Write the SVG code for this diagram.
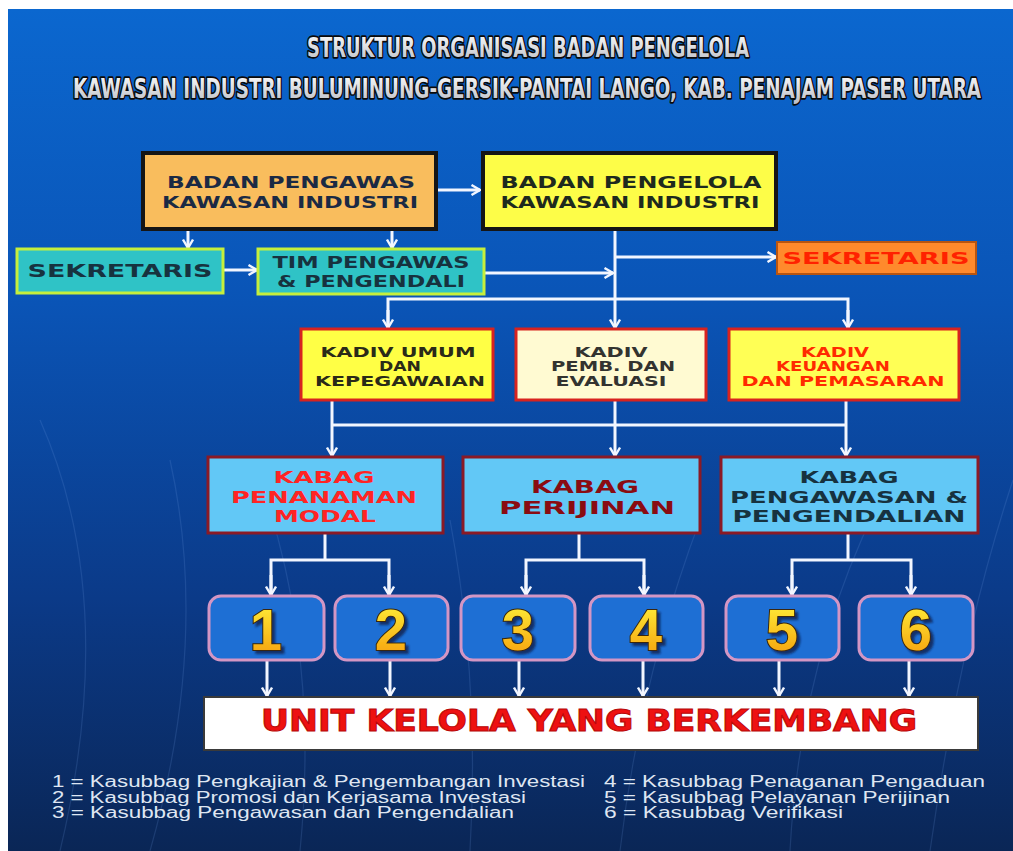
<svg xmlns="http://www.w3.org/2000/svg" width="1013" height="851" viewBox="0 0 1013 851">
<style>
  .conn { stroke: #f2f6ff; stroke-width: 3; fill: none; }
  .arr { marker-end: url(#arrow); }
  .bt { font-family: "DejaVu Sans", "Liberation Sans", sans-serif; font-weight: bold; text-anchor: middle; }
  .title { font-family: "DejaVu Sans Condensed", "DejaVu Sans", sans-serif; font-weight: bold; font-size: 21px; text-anchor: middle; fill: url(#titleFill); stroke: #0a0a0a; stroke-width: 2.6; paint-order: stroke; stroke-linejoin: round; }
  .num { font-family: "Liberation Sans", "DejaVu Sans", sans-serif; font-weight: bold; font-size: 58px; text-anchor: middle; fill: url(#numFill); stroke: #3a2808; stroke-width: 2; paint-order: stroke; filter: url(#numShadow); }
  .nbox { fill: #1e6fd4; stroke: #d396c4; stroke-width: 3; }
  .legend { font-family: "Liberation Sans", "DejaVu Sans", sans-serif; font-size: 16px; fill: #dfe6f2; }
  .kadiv { stroke: #d8231f; stroke-width: 3; }
  .kabag { fill: #62c8f6; stroke: #8a1a26; stroke-width: 3; }
  .teal { fill: #2fc3c6; stroke: #c6ef3c; stroke-width: 3; }
</style>
<defs>
  <linearGradient id="bg" x1="0" y1="0" x2="0" y2="1">
    <stop offset="0" stop-color="#0b67cf"/>
    <stop offset="0.35" stop-color="#0a54b6"/>
    <stop offset="0.7" stop-color="#0b3a88"/>
    <stop offset="1" stop-color="#0a2656"/>
  </linearGradient>
  <linearGradient id="titleFill" x1="0" y1="0" x2="0" y2="1">
    <stop offset="0" stop-color="#ffffff"/>
    <stop offset="1" stop-color="#b8bcc4"/>
  </linearGradient>
  <linearGradient id="numFill" x1="0" y1="0" x2="0" y2="1">
    <stop offset="0" stop-color="#fff53c"/>
    <stop offset="1" stop-color="#f59a0a"/>
  </linearGradient>
  <filter id="numShadow" x="-30%" y="-30%" width="160%" height="160%">
    <feDropShadow dx="3" dy="3" stdDeviation="0.8" flood-color="#0a2050" flood-opacity="0.8"/>
  </filter>
  <marker id="arrow" viewBox="0 0 12 12" refX="10.5" refY="6" markerWidth="12" markerHeight="12" markerUnits="userSpaceOnUse" orient="auto">
    <path d="M2,1 L10.5,6 L2,11" fill="none" stroke="#f2f6ff" stroke-width="2.4" stroke-linejoin="miter"/>
  </marker>
</defs>

<rect x="0" y="0" width="1013" height="851" fill="#ffffff"/>
<rect x="8" y="9" width="1005" height="842" fill="url(#bg)"/>
<g stroke="#6f9be0" stroke-width="1.2" fill="none" opacity="0.18">
  <path d="M60,851 Q120,600 40,420"/>
  <path d="M150,851 Q210,640 170,460"/>
  <path d="M300,851 Q320,650 260,480"/>
  <path d="M470,851 Q480,680 450,520"/>
  <path d="M620,851 Q640,680 700,520"/>
  <path d="M790,851 Q800,660 880,500"/>
  <path d="M930,851 Q960,640 1013,480"/>
</g>

<g id="title">
  <text class="title" transform="translate(528,57) scale(1,1.3)" x="0" y="0" textLength="442" lengthAdjust="spacingAndGlyphs">STRUKTUR ORGANISASI BADAN PENGELOLA</text>
  <text class="title" transform="translate(527,98) scale(1,1.3)" x="0" y="0" textLength="908" lengthAdjust="spacingAndGlyphs">KAWASAN INDUSTRI BULUMINUNG-GERSIK-PANTAI LANGO, KAB. PENAJAM PASER UTARA</text>
</g>

<g id="connectors">
  <line class="conn arr" x1="436" y1="190" x2="480" y2="190"/>
  <line class="conn arr" x1="188" y1="229" x2="188" y2="248"/>
  <line class="conn arr" x1="392" y1="229" x2="392" y2="248"/>
  <line class="conn arr" x1="223" y1="270" x2="257" y2="270"/>
  <line class="conn arr" x1="484" y1="273" x2="613" y2="273"/>
  <line class="conn arr" x1="615" y1="229" x2="615" y2="328"/>
  <line class="conn arr" x1="615" y1="257" x2="776" y2="257"/>
  <polyline class="conn" points="388,328 388,299 848,299 848,328"/>
  <line class="conn arr" x1="388" y1="310" x2="388" y2="328"/>
  <line class="conn arr" x1="848" y1="310" x2="848" y2="328"/>
  <line class="conn" x1="332" y1="400" x2="332" y2="425"/>
  <line class="conn" x1="615" y1="400" x2="615" y2="425"/>
  <line class="conn" x1="846" y1="400" x2="846" y2="425"/>
  <line class="conn" x1="332" y1="425" x2="846" y2="425"/>
  <line class="conn arr" x1="332" y1="425" x2="332" y2="456"/>
  <line class="conn arr" x1="615" y1="425" x2="615" y2="456"/>
  <line class="conn arr" x1="846" y1="425" x2="846" y2="456"/>
  <line class="conn" x1="325" y1="533" x2="325" y2="560"/>
  <polyline class="conn" points="271,594 271,560 389,560 389,594"/>
  <line class="conn arr" x1="271" y1="575" x2="271" y2="595"/>
  <line class="conn arr" x1="389" y1="575" x2="389" y2="595"/>
  <line class="conn" x1="579" y1="533" x2="579" y2="560"/>
  <polyline class="conn" points="526,594 526,560 644,560 644,594"/>
  <line class="conn arr" x1="526" y1="575" x2="526" y2="595"/>
  <line class="conn arr" x1="644" y1="575" x2="644" y2="595"/>
  <line class="conn" x1="848" y1="533" x2="848" y2="560"/>
  <polyline class="conn" points="792,594 792,560 911,560 911,594"/>
  <line class="conn arr" x1="792" y1="575" x2="792" y2="595"/>
  <line class="conn arr" x1="911" y1="575" x2="911" y2="595"/>
  <line class="conn arr" x1="267" y1="660" x2="267" y2="696"/>
  <line class="conn arr" x1="390" y1="660" x2="390" y2="696"/>
  <line class="conn arr" x1="519" y1="660" x2="519" y2="696"/>
  <line class="conn arr" x1="643" y1="660" x2="643" y2="696"/>
  <line class="conn arr" x1="779" y1="660" x2="779" y2="696"/>
  <line class="conn arr" x1="909" y1="660" x2="909" y2="696"/>
</g>

<g id="badan-pengawas">
  <rect x="143" y="153" width="293" height="76" fill="#f9bd5d" stroke="#151515" stroke-width="4"/>
  <text class="bt" x="291" y="188" font-size="16" fill="#1b2a44" textLength="248" lengthAdjust="spacingAndGlyphs">BADAN PENGAWAS</text>
  <text class="bt" x="290" y="208" font-size="16" fill="#1b2a44" textLength="256" lengthAdjust="spacingAndGlyphs">KAWASAN INDUSTRI</text>
</g>

<g id="badan-pengelola">
  <rect x="483" y="153" width="293" height="76" fill="#fdfd48" stroke="#151515" stroke-width="4"/>
  <text class="bt" x="631" y="188" font-size="16" fill="#1e2a1e" textLength="261" lengthAdjust="spacingAndGlyphs">BADAN PENGELOLA</text>
  <text class="bt" x="630" y="208" font-size="16" fill="#1e2a1e" textLength="259" lengthAdjust="spacingAndGlyphs">KAWASAN INDUSTRI</text>
</g>

<g id="sekretaris-pengawas">
  <rect class="teal" x="17" y="249" width="206" height="44"/>
  <text class="bt" x="120" y="277" font-size="17" fill="#17323f" textLength="185" lengthAdjust="spacingAndGlyphs">SEKRETARIS</text>
</g>

<g id="tim-pengawas">
  <rect class="teal" x="258" y="249" width="226" height="45"/>
  <text class="bt" x="371" y="268" font-size="15" fill="#17323f" textLength="197" lengthAdjust="spacingAndGlyphs">TIM PENGAWAS</text>
  <text class="bt" x="371" y="287" font-size="15" fill="#17323f" textLength="188" lengthAdjust="spacingAndGlyphs">&amp; PENGENDALI</text>
</g>

<g id="sekretaris-pengelola">
  <rect x="777" y="242" width="199" height="32" fill="#ff8a2c" stroke="#b85510" stroke-width="2"/>
  <text class="bt" x="876" y="264" font-size="15" fill="#ff2200" textLength="187" lengthAdjust="spacingAndGlyphs">SEKRETARIS</text>
</g>

<g id="kadiv-umum">
  <rect class="kadiv" x="301" y="329" width="192" height="71" fill="#ffff45"/>
  <text class="bt" x="398" y="357" font-size="14" fill="#2a2a18" textLength="155" lengthAdjust="spacingAndGlyphs">KADIV UMUM</text>
  <text class="bt" x="400" y="371" font-size="14" fill="#2a2a18" textLength="42" lengthAdjust="spacingAndGlyphs">DAN</text>
  <text class="bt" x="400" y="386" font-size="14" fill="#2a2a18" textLength="170" lengthAdjust="spacingAndGlyphs">KEPEGAWAIAN</text>
</g>

<g id="kadiv-pemb">
  <rect class="kadiv" x="516" y="329" width="190" height="71" fill="#fffad2"/>
  <text class="bt" x="611" y="357" font-size="14" fill="#333330" textLength="73" lengthAdjust="spacingAndGlyphs">KADIV</text>
  <text class="bt" x="613" y="371" font-size="14" fill="#333330" textLength="124" lengthAdjust="spacingAndGlyphs">PEMB. DAN</text>
  <text class="bt" x="611" y="386" font-size="14" fill="#333330" textLength="111" lengthAdjust="spacingAndGlyphs">EVALUASI</text>
</g>

<g id="kadiv-keuangan">
  <rect class="kadiv" x="729" y="329" width="230" height="71" fill="#ffff55"/>
  <text class="bt" x="835" y="357" font-size="14" fill="#ff2a00" textLength="68" lengthAdjust="spacingAndGlyphs">KADIV</text>
  <text class="bt" x="833" y="371" font-size="14" fill="#ff2a00" textLength="114" lengthAdjust="spacingAndGlyphs">KEUANGAN</text>
  <text class="bt" x="843" y="386" font-size="14" fill="#ff2a00" textLength="203" lengthAdjust="spacingAndGlyphs">DAN PEMASARAN</text>
</g>

<g id="kabag-penanaman">
  <rect class="kabag" x="208" y="457" width="235" height="76"/>
  <text class="bt" x="324" y="483" font-size="16" fill="#ff2424" textLength="101" lengthAdjust="spacingAndGlyphs">KABAG</text>
  <text class="bt" x="324" y="503" font-size="16" fill="#ff2424" textLength="186" lengthAdjust="spacingAndGlyphs">PENANAMAN</text>
  <text class="bt" x="325" y="522" font-size="16" fill="#ff2424" textLength="102" lengthAdjust="spacingAndGlyphs">MODAL</text>
</g>

<g id="kabag-perijinan">
  <rect class="kabag" x="463" y="457" width="237" height="76"/>
  <text class="bt" x="585" y="493" font-size="18" fill="#8a0c12" textLength="108" lengthAdjust="spacingAndGlyphs">KABAG</text>
  <text class="bt" x="587" y="514" font-size="18" fill="#8a0c12" textLength="176" lengthAdjust="spacingAndGlyphs">PERIJINAN</text>
</g>

<g id="kabag-pengawasan">
  <rect class="kabag" x="721" y="457" width="257" height="76"/>
  <text class="bt" x="849" y="483" font-size="16" fill="#17323f" textLength="99" lengthAdjust="spacingAndGlyphs">KABAG</text>
  <text class="bt" x="849" y="503" font-size="16" fill="#17323f" textLength="238" lengthAdjust="spacingAndGlyphs">PENGAWASAN &amp;</text>
  <text class="bt" x="849" y="522" font-size="16" fill="#17323f" textLength="233" lengthAdjust="spacingAndGlyphs">PENGENDALIAN</text>
</g>

<g id="sub-1">
  <rect class="nbox" x="209" y="596" width="115" height="64" rx="12"/>
  <text class="num" x="266" y="650">1</text>
</g>
<g id="sub-2">
  <rect class="nbox" x="335" y="596" width="113" height="64" rx="12"/>
  <text class="num" x="391" y="650">2</text>
</g>
<g id="sub-3">
  <rect class="nbox" x="461" y="596" width="114" height="64" rx="12"/>
  <text class="num" x="518" y="650">3</text>
</g>
<g id="sub-4">
  <rect class="nbox" x="590" y="596" width="113" height="64" rx="12"/>
  <text class="num" x="646" y="650">4</text>
</g>
<g id="sub-5">
  <rect class="nbox" x="726" y="596" width="113" height="64" rx="12"/>
  <text class="num" x="782" y="650">5</text>
</g>
<g id="sub-6">
  <rect class="nbox" x="859" y="596" width="114" height="64" rx="12"/>
  <text class="num" x="916" y="650">6</text>
</g>

<g id="unit-kelola">
  <rect x="204" y="697" width="774" height="53" fill="#ffffff" stroke="#3a3a3a" stroke-width="2"/>
  <text class="bt" x="589" y="731" font-size="30" fill="#ee1111" stroke="#b80808" stroke-width="1" textLength="656" lengthAdjust="spacingAndGlyphs">UNIT KELOLA YANG BERKEMBANG</text>
</g>

<g id="legend">
  <text class="legend" x="52" y="787" textLength="533" lengthAdjust="spacingAndGlyphs">1 = Kasubbag Pengkajian &amp; Pengembangan Investasi</text>
  <text class="legend" x="52" y="803" textLength="474" lengthAdjust="spacingAndGlyphs">2 = Kasubbag Promosi dan Kerjasama Investasi</text>
  <text class="legend" x="52" y="818" textLength="462" lengthAdjust="spacingAndGlyphs">3 = Kasubbag Pengawasan dan Pengendalian</text>
  <text class="legend" x="604" y="787" textLength="381" lengthAdjust="spacingAndGlyphs">4 = Kasubbag Penaganan Pengaduan</text>
  <text class="legend" x="604" y="803" textLength="346" lengthAdjust="spacingAndGlyphs">5 = Kasubbag Pelayanan Perijinan</text>
  <text class="legend" x="604" y="818" textLength="239" lengthAdjust="spacingAndGlyphs">6 = Kasubbag Verifikasi</text>
</g>
</svg>
